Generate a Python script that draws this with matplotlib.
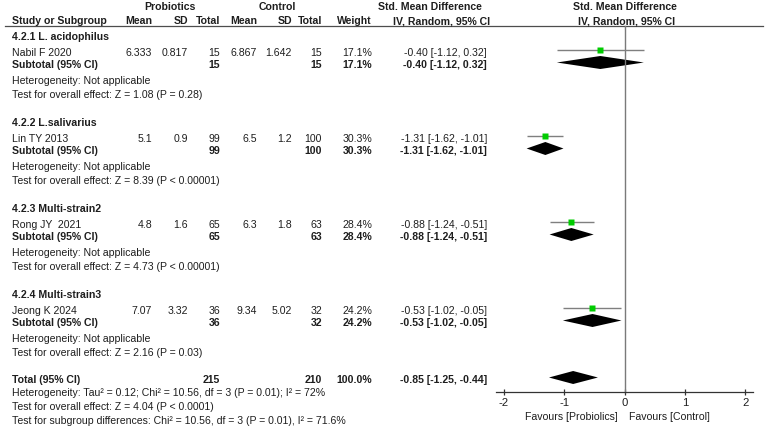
import matplotlib
matplotlib.use("Agg")
import matplotlib.pyplot as plt
import numpy as np

# ---------------- data ----------------
groups = ["4.2.1 L. acidophilus", "4.2.2 L.salivarius", "4.2.3 Multi-strain2", "4.2.4 Multi-strain3"]
studies = ["Nabil F 2020", "Lin TY 2013", "Rong JY  2021", "Jeong K 2024"]
pro_mean = [6.333, 5.1, 4.8, 7.07]
pro_sd = [0.817, 0.9, 1.6, 3.32]
pro_n = [15, 99, 65, 36]
con_mean = [6.867, 6.5, 6.3, 9.34]
con_sd = [1.642, 1.2, 1.8, 5.02]
con_n = [15, 100, 63, 32]
weight = [17.1, 30.3, 28.4, 24.2]
smd = [-0.40, -1.31, -0.88, -0.53]
ci_lo = [-1.12, -1.62, -1.24, -1.02]
ci_hi = [0.32, -1.01, -0.51, -0.05]
sub_smd = [-0.40, -1.31, -0.88, -0.53]
sub_lo = [-1.12, -1.62, -1.24, -1.02]
sub_hi = [0.32, -1.01, -0.51, -0.05]
sub_het = ["Heterogeneity: Not applicable"] * 4
sub_z = ["Z = 1.08 (P = 0.28)", "Z = 8.39 (P < 0.00001)", "Z = 4.73 (P < 0.00001)", "Z = 2.16 (P = 0.03)"]
total_pro_n = 215
total_con_n = 210
total_weight = 100.0
total_smd, total_lo, total_hi = -0.85, -1.25, -0.44
footer = [
    "Heterogeneity: Tau\u00b2 = 0.12; Chi\u00b2 = 10.56, df = 3 (P = 0.01); I\u00b2 = 72%",
    "Test for overall effect: Z = 4.04 (P < 0.0001)",
    "Test for subgroup differences: Chi\u00b2 = 10.56, df = 3 (P = 0.01), I\u00b2 = 71.6%",
]
xticks = [-2, -1, 0, 1, 2]
fav_left = "Favours [Probiolics]"
fav_right = "Favours [Control]"

# ---------------- layout ----------------
W, H = 766, 430
FS = 7.6
TXT = "#1e1e1e"
plt.rcParams["font.family"] = ["Liberation Sans", "DejaVu Sans"]

fig = plt.figure(figsize=(W / 100, H / 100), dpi=100)
tx = fig.add_axes([0, 0, 1, 1])
tx.set_xlim(0, W)
tx.set_ylim(H, 0)
tx.axis("off")

fx_left, fx_right = 496, 753
fx = fig.add_axes([fx_left / W, 0, (fx_right - fx_left) / W, 1])
fx.set_xlim(-2.127, 2.127)
fx.set_ylim(H, 0)
fx.patch.set_visible(False)
for s in ["top", "left", "right"]:
    fx.spines[s].set_visible(False)
axis_y = 392
fx.spines["bottom"].set_position(("data", axis_y))
fx.spines["bottom"].set_color("#333333")
fx.spines["bottom"].set_linewidth(0.9)
fx.set_yticks([])
fx.set_xticks(xticks)
fx.set_xticklabels([str(t) for t in xticks])
fx.tick_params(axis="x", direction="inout", length=5, width=0.9, color="#333333",
               labelsize=FS + 0.5, labelcolor=TXT, pad=2)

def t(x, y, s, ha="left", bold=False, size=FS):
    tx.text(x, y, s, ha=ha, va="center", fontsize=size, color=TXT,
            fontweight="bold" if bold else "normal")

# columns (right edges)
X_LABEL = 12
X_PM, X_PSD, X_PN = 152, 188, 220
X_CM, X_CSD, X_CN = 257, 292, 322
X_W = 372
X_CI = 487

# header
t(170, 7, "Probiotics", ha="center", bold=True)
t(277, 7, "Control", ha="center", bold=True)
t(430, 7, "Std. Mean Difference", ha="center", bold=True)
t(625, 7, "Std. Mean Difference", ha="center", bold=True)
hy = 21
t(X_LABEL, hy, "Study or Subgroup", bold=True)
for x, s in [(X_PM, "Mean"), (X_PSD, "SD"), (X_PN, "Total"), (X_CM, "Mean"),
             (X_CSD, "SD"), (X_CN, "Total"), (X_W, "Weight")]:
    t(x, hy, s, ha="right", bold=True)
t(442, hy, "IV, Random, 95% CI", ha="center", bold=True)
t(627, hy, "IV, Random, 95% CI", ha="center", bold=True)
tx.plot([5, 763], [26, 26], color="#4d4d4d", lw=0.9)

# zero line
fx.plot([0, 0], [26, axis_y], color="#7a7a7a", lw=1.0)

def ci_text(e, l, h):
    return f"{e:.2f} [{l:.2f}, {h:.2f}]"

def diamond(e, l, h, y, hh=6.5):
    fx.fill([l, e, h, e], [y, y - hh, y, y + hh], color="black", lw=0)

g0 = 37
gap = 86
for i in range(4):
    y0 = g0 + gap * i
    t(X_LABEL, y0, groups[i], bold=True)
    ys = y0 + 15.5
    t(X_LABEL, ys, studies[i])
    t(X_PM, ys, str(pro_mean[i]), ha="right")
    t(X_PSD, ys, str(pro_sd[i]), ha="right")
    t(X_PN, ys, str(pro_n[i]), ha="right")
    t(X_CM, ys, str(con_mean[i]), ha="right")
    t(X_CSD, ys, str(con_sd[i]), ha="right")
    t(X_CN, ys, str(con_n[i]), ha="right")
    t(X_W, ys, f"{weight[i]:.1f}%", ha="right")
    t(X_CI, ys, ci_text(smd[i], ci_lo[i], ci_hi[i]), ha="right")
    my = ys - 2.5
    fx.plot([ci_lo[i], ci_hi[i]], [my, my], color="#7f7f7f", lw=1.0, solid_capstyle="butt")
    fx.plot([smd[i]], [my], marker="s", ms=0.9 * np.sqrt(weight[i]), color="#00cc00",
            mec="none", zorder=3)
    yt = y0 + 28
    t(X_LABEL, yt, "Subtotal (95% CI)", bold=True)
    t(X_PN, yt, str(pro_n[i]), ha="right", bold=True)
    t(X_CN, yt, str(con_n[i]), ha="right", bold=True)
    t(X_W, yt, f"{weight[i]:.1f}%", ha="right", bold=True)
    t(X_CI, yt, ci_text(sub_smd[i], sub_lo[i], sub_hi[i]), ha="right", bold=True)
    diamond(sub_smd[i], sub_lo[i], sub_hi[i], yt - 2.5)
    t(X_LABEL, y0 + 44, sub_het[i])
    t(X_LABEL, y0 + 58, "Test for overall effect: " + sub_z[i])

yT = 380
t(X_LABEL, yT, "Total (95% CI)", bold=True)
t(X_PN, yT, str(total_pro_n), ha="right", bold=True)
t(X_CN, yT, str(total_con_n), ha="right", bold=True)
t(X_W, yT, f"{total_weight:.1f}%", ha="right", bold=True)
t(X_CI, yT, ci_text(total_smd, total_lo, total_hi), ha="right", bold=True)
diamond(total_smd, total_lo, total_hi, yT - 2.5)
for k, s in enumerate(footer):
    t(X_LABEL, 393.5 + 13.5 * k, s)

fx.text(-0.12, 417, fav_left, ha="right", va="center", fontsize=FS, color=TXT)
fx.text(0.08, 417, fav_right, ha="left", va="center", fontsize=FS, color=TXT)

fig.savefig("out.png", dpi=100)
